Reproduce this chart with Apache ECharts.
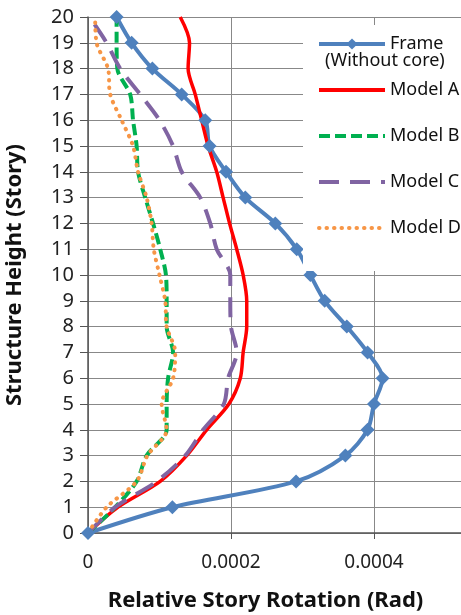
<!DOCTYPE html>
<html>
<head>
<meta charset="utf-8">
<script src="https://cdn.jsdelivr.net/npm/echarts@6/dist/echarts.min.js"></script>
<style>
  html, body { margin: 0; padding: 0; background: #fff; }
  #chart { width: 461px; height: 615px; }
</style>
</head>
<body>
<div id="chart"></div>
<script>
// stories 0..20
const stories = [0, 1, 2, 3, 4, 5, 6, 7, 8, 9, 10, 11, 12, 13, 14, 15, 16, 17, 18, 19, 20]

// relative story rotation (rad) per story
const frame = [0, 1.18e-4, 2.91e-4, 3.60e-4, 3.91e-4, 4.0e-4, 4.12e-4, 3.91e-4, 3.62e-4, 3.31e-4, 3.11e-4,
  2.92e-4, 2.62e-4, 2.20e-4, 1.93e-4, 1.70e-4, 1.64e-4, 1.31e-4, 0.90e-4, 0.61e-4, 0.40e-4]
const modelA = [0, 0.42e-4, 1.01e-4, 1.38e-4, 1.66e-4, 1.97e-4, 2.13e-4, 2.17e-4, 2.22e-4, 2.22e-4, 2.17e-4,
  2.08e-4, 1.98e-4, 1.89e-4, 1.80e-4, 1.68e-4, 1.59e-4, 1.50e-4, 1.40e-4, 1.42e-4, 1.29e-4]
const modelB = [0, 0.38e-4, 0.68e-4, 0.82e-4, 1.10e-4, 1.10e-4, 1.12e-4, 1.19e-4, 1.10e-4, 1.10e-4, 1.09e-4,
  1.01e-4, 0.91e-4, 0.80e-4, 0.70e-4, 0.68e-4, 0.63e-4, 0.59e-4, 0.41e-4, 0.40e-4, 0.40e-4]
const modelC = [0, 0.38e-4, 0.96e-4, 1.36e-4, 1.61e-4, 1.90e-4, 1.96e-4, 2.08e-4, 2.00e-4, 1.99e-4, 1.99e-4,
  1.80e-4, 1.71e-4, 1.57e-4, 1.31e-4, 1.19e-4, 1.00e-4, 0.73e-4, 0.45e-4, 0.26e-4, 0.02e-4]
const modelD = [0, 0.26e-4, 0.68e-4, 0.83e-4, 1.10e-4, 1.03e-4, 1.19e-4, 1.22e-4, 1.10e-4, 1.08e-4, 1.00e-4,
  0.92e-4, 0.89e-4, 0.82e-4, 0.70e-4, 0.63e-4, 0.47e-4, 0.31e-4, 0.28e-4, 0.12e-4, 0.10e-4]

const names = ['Frame', 'Model A', 'Model B', 'Model C', 'Model D']
const xTicks = [0, 0.0002, 0.0004, 0.0006]

const pairs = (vals) => vals.map((v, i) => [v, stories[i]])

const chart = echarts.init(document.getElementById('chart'))
const font = 'Noto Sans'

// models draw no marker, so hide the legend dot too
const legendData = names.map((n, i) => (i === 0 ? { name: n } : { name: n, itemStyle: { opacity: 0 } }))

chart.setOption({
  animation: false,
  grid: { left: 88, top: 17, right: -56, bottom: 82, outerBoundsMode: 'none' },
  xAxis: {
    type: 'value',
    min: xTicks[0],
    max: xTicks[xTicks.length - 1],
    interval: 0.0002,
    name: 'Relative Story Rotation (Rad)',
    nameLocation: 'middle',
    nameGap: 57,
    nameTextStyle: { fontFamily: font, fontSize: 22, fontWeight: 'bold', color: '#111', padding: [0, 74, 0, 0] },
    axisLine: { lineStyle: { color: '#555', width: 1.5 } },
    axisTick: { show: true, length: 6, lineStyle: { color: '#555' } },
    axisLabel: {
      fontFamily: font, fontSize: 19, color: '#222', margin: 20,
      formatter: (v) => (v === 0 ? '0' : v.toFixed(4))
    },
    splitLine: { show: true, lineStyle: { color: '#888', width: 1 } }
  },
  yAxis: {
    type: 'value',
    min: 0,
    max: 20,
    interval: 1,
    name: 'Structure Height (Story)',
    nameLocation: 'middle',
    nameGap: 62,
    nameTextStyle: { fontFamily: font, fontSize: 22, fontWeight: 'bold', color: '#111' },
    axisLine: { show: true, lineStyle: { color: '#555', width: 1.5 } },
    axisTick: { show: true, length: 8, lineStyle: { color: '#555' } },
    axisLabel: { fontFamily: font, fontSize: 20, color: '#222', margin: 14 },
    splitLine: { show: true, lineStyle: { color: '#888', width: 1 } }
  },
  legend: {
    orient: 'vertical',
    left: 303,
    top: 25,
    padding: [10, 20, 34, 14],
    backgroundColor: '#fff',
    itemWidth: 66,
    itemHeight: 14,
    itemGap: 28,
    data: legendData,
    lineStyle: { width: 4 },
    textStyle: { fontFamily: font, fontSize: 18, color: '#111' }
  },
  graphic: [{
    type: 'text',
    left: 325,
    top: 52,
    z: 100,
    style: { text: '(Without core)', fontFamily: font, fontSize: 18, fill: '#111' }
  }],
  series: [
    {
      name: names[0], type: 'line', data: pairs(frame), smooth: 0.3,
      symbol: 'diamond', symbolSize: 14,
      itemStyle: { color: '#4F81BD' },
      lineStyle: { color: '#4F81BD', width: 4 }
    },
    {
      name: names[1], type: 'line', data: pairs(modelA), smooth: 0.3,
      symbol: 'none', itemStyle: { color: '#FF0000' },
      lineStyle: { color: '#FF0000', width: 3.5 }
    },
    {
      name: names[2], type: 'line', data: pairs(modelB), smooth: 0.3,
      symbol: 'none', itemStyle: { color: '#00B050' },
      lineStyle: { color: '#00B050', width: 4, type: [11, 5] }
    },
    {
      name: names[3], type: 'line', data: pairs(modelC), smooth: 0.3,
      symbol: 'none', itemStyle: { color: '#8064A2' },
      lineStyle: { color: '#8064A2', width: 4, type: [20, 11] }
    },
    {
      name: names[4], type: 'line', data: pairs(modelD), smooth: 0.3,
      symbol: 'none', itemStyle: { color: '#F79646' },
      lineStyle: { color: '#F79646', width: 4, type: [0.5, 7], cap: 'round' }
    }
  ]
})

window.addEventListener('resize', () => {
  chart.resize()
})
</script>
</body>
</html>
